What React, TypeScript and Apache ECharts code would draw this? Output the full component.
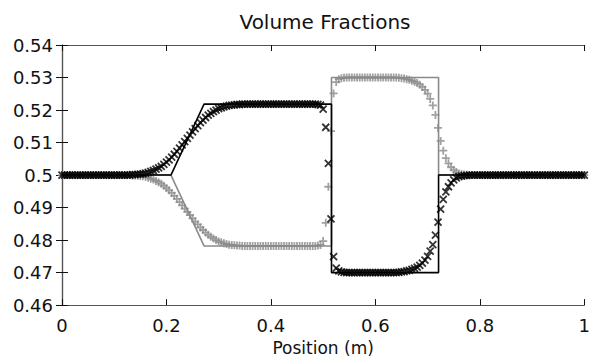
import React, { useEffect, useRef } from "react";
import * as echarts from "echarts";

// Cell positions: 201 evenly spaced samples from 0 to 1 (step 0.005)
const N_POINTS = 201;
const POSITIONS: number[] = Array.from({ length: N_POINTS }, (_, i) => Math.round(i * 5) / 1000);

// Numerical volume fraction, phase 1 (black ×)
const ALPHA1: number[] = [
  0.5, 0.5, 0.5, 0.5, 0.5, 0.5, 0.5, 0.5, 0.5, 0.5, 0.5, 0.5,
  0.5, 0.5, 0.5, 0.5, 0.5, 0.5, 0.5, 0.5, 0.5, 0.5, 0.5, 0.5,
  0.5, 0.5, 0.5, 0.5001, 0.5001, 0.5002, 0.5003, 0.5004, 0.5006, 0.5008, 0.5011, 0.5014,
  0.5018, 0.5022, 0.5027, 0.5033, 0.504, 0.5047, 0.5055, 0.5064, 0.5073, 0.5083, 0.5093, 0.5103,
  0.5113, 0.5123, 0.5133, 0.5143, 0.5152, 0.5161, 0.5169, 0.5177, 0.5184, 0.519, 0.5195, 0.52,
  0.5204, 0.5207, 0.521, 0.5212, 0.5214, 0.5215, 0.5216, 0.5217, 0.5217,
  0.5218, 0.5218, 0.5218, 0.5218, 0.5218, 0.5218, 0.5218, 0.5218, 0.5218, 0.5218,
  0.5218, 0.5218, 0.5218, 0.5218, 0.5218, 0.5218, 0.5218, 0.5218, 0.5218, 0.5218,
  0.5218, 0.5218, 0.5218, 0.5218, 0.5218, 0.5218, 0.5218, 0.5218, 0.5218,
  0.5217, 0.5215, 0.5203, 0.5147, 0.5036, 0.4865, 0.4749, 0.4714, 0.4705, 0.4702, 0.4701,
  0.47, 0.47, 0.47, 0.47, 0.47, 0.47, 0.47, 0.47, 0.47, 0.47,
  0.47, 0.47, 0.47, 0.47, 0.47, 0.47, 0.47, 0.47, 0.47,
  0.47, 0.4701, 0.4702, 0.4703, 0.4705, 0.4707, 0.471, 0.4713, 0.4717, 0.4722,
  0.4729, 0.4738, 0.475, 0.4766, 0.4786, 0.4815, 0.4855, 0.4895, 0.4925, 0.4948,
  0.4964, 0.4976, 0.4985, 0.4991, 0.4995, 0.4997, 0.4998, 0.4999,
  0.5, 0.5, 0.5, 0.5, 0.5, 0.5, 0.5, 0.5, 0.5, 0.5, 0.5, 0.5, 0.5, 0.5, 0.5,
  0.5, 0.5, 0.5, 0.5, 0.5, 0.5, 0.5, 0.5, 0.5, 0.5, 0.5, 0.5, 0.5, 0.5, 0.5,
  0.5, 0.5, 0.5, 0.5, 0.5, 0.5, 0.5, 0.5, 0.5, 0.5, 0.5, 0.5, 0.5, 0.5, 0.5,
];

// Numerical volume fraction, phase 2 (grey +)
const ALPHA2: number[] = [
  0.5, 0.5, 0.5, 0.5, 0.5, 0.5, 0.5, 0.5, 0.5, 0.5, 0.5, 0.5,
  0.5, 0.5, 0.5, 0.5, 0.5, 0.5, 0.5, 0.5, 0.5, 0.5, 0.5, 0.5,
  0.5, 0.5, 0.5, 0.4999, 0.4999, 0.4998, 0.4997, 0.4996, 0.4994, 0.4992, 0.4989, 0.4986,
  0.4982, 0.4978, 0.4973, 0.4967, 0.496, 0.4953, 0.4945, 0.4936, 0.4927, 0.4917, 0.4907, 0.4897,
  0.4887, 0.4877, 0.4867, 0.4857, 0.4848, 0.4839, 0.4831, 0.4823, 0.4816, 0.481, 0.4805, 0.48,
  0.4796, 0.4793, 0.479, 0.4788, 0.4786, 0.4785, 0.4784, 0.4783, 0.4783,
  0.4782, 0.4782, 0.4782, 0.4782, 0.4782, 0.4782, 0.4782, 0.4782, 0.4782, 0.4782,
  0.4782, 0.4782, 0.4782, 0.4782, 0.4782, 0.4782, 0.4782, 0.4782, 0.4782, 0.4782,
  0.4782, 0.4782, 0.4782, 0.4782, 0.4782, 0.4782, 0.4782, 0.4782, 0.4782,
  0.4783, 0.4785, 0.4797, 0.4853, 0.4964, 0.5135, 0.5251, 0.5286, 0.5295, 0.5298, 0.5299,
  0.53, 0.53, 0.53, 0.53, 0.53, 0.53, 0.53, 0.53, 0.53, 0.53,
  0.53, 0.53, 0.53, 0.53, 0.53, 0.53, 0.53, 0.53, 0.53,
  0.53, 0.5299, 0.5298, 0.5297, 0.5295, 0.5293, 0.529, 0.5287, 0.5283, 0.5278,
  0.5271, 0.5262, 0.525, 0.5234, 0.5214, 0.5185, 0.5145, 0.5105, 0.5075, 0.5052,
  0.5036, 0.5024, 0.5015, 0.5009, 0.5005, 0.5003, 0.5002, 0.5001,
  0.5, 0.5, 0.5, 0.5, 0.5, 0.5, 0.5, 0.5, 0.5, 0.5, 0.5, 0.5, 0.5, 0.5, 0.5,
  0.5, 0.5, 0.5, 0.5, 0.5, 0.5, 0.5, 0.5, 0.5, 0.5, 0.5, 0.5, 0.5, 0.5, 0.5,
  0.5, 0.5, 0.5, 0.5, 0.5, 0.5, 0.5, 0.5, 0.5, 0.5, 0.5, 0.5, 0.5, 0.5, 0.5,
];

// Exact solution (piecewise linear)
const EXACT_X: number[] = [0, 0.2086, 0.272, 0.516, 0.516, 0.721, 0.721, 1];
const EXACT_ALPHA1: number[] = [0.5, 0.5, 0.5218, 0.5218, 0.47, 0.47, 0.5, 0.5];
const EXACT_ALPHA2: number[] = [0.5, 0.5, 0.4782, 0.4782, 0.53, 0.53, 0.5, 0.5];

const X_TICKS = { min: 0, max: 1, interval: 0.2 };
const Y_TICKS = { min: 0.46, max: 0.54, interval: 0.01 };

const TITLE = "Volume Fractions";
const X_NAME = "Position (m)";

const CROSS = "path://M0,0L10,10M10,0L0,10";
const PLUS = "path://M5,0L5,10M0,5L10,5";

const FONT = "DejaVu Sans";
const AXIS_COLOR = "#555";
const GREY = "#8a8a8a";

const zip = (xs: number[], ys: number[]) => ys.map((y, i) => [xs[i], y]);

export default function App() {
  const ref = useRef<HTMLDivElement>(null);
  useEffect(() => {
    if (!ref.current) return;
    const chart = echarts.init(ref.current, undefined, { renderer: "svg" });
    const axisLine = { show: true, lineStyle: { color: AXIS_COLOR, width: 1.2 } };
    const axisTick = { show: true, inside: true, length: 6, lineStyle: { color: "#111", width: 1 } };
    chart.setOption({
      animation: false,
      backgroundColor: "#fff",
      title: {
        text: TITLE,
        left: 325,
        top: 12,
        padding: 0,
        textAlign: "center",
        textStyle: { fontFamily: FONT, fontSize: 20, fontWeight: "normal", color: "#111" },
      },
      grid: { left: 62, right: 5, top: 45, bottom: 51, containLabel: false },
      xAxis: [
        {
          type: "value",
          ...X_TICKS,
          position: "bottom",
          name: X_NAME,
          nameLocation: "middle",
          nameGap: 33,
          nameTextStyle: { fontFamily: FONT, fontSize: 17, color: "#111" },
          axisLine,
          axisTick,
          splitLine: { show: false },
          axisLabel: {
            fontFamily: FONT,
            fontSize: 18,
            color: "#111",
            margin: 11,
            formatter: (v: number) => String(+v.toFixed(2)),
          },
        },
        {
          type: "value",
          ...X_TICKS,
          position: "top",
          axisLine,
          axisTick,
          splitLine: { show: false },
          axisLabel: { show: false },
        },
      ],
      yAxis: [
        {
          type: "value",
          ...Y_TICKS,
          position: "left",
          axisLine,
          axisTick,
          splitLine: { show: false },
          axisLabel: {
            fontFamily: FONT,
            fontSize: 18,
            color: "#111",
            margin: 9,
            formatter: (v: number) => String(+v.toFixed(2)),
          },
        },
        {
          type: "value",
          ...Y_TICKS,
          position: "right",
          axisLine,
          axisTick,
          splitLine: { show: false },
          axisLabel: { show: false },
        },
      ],
      series: [
        {
          type: "line",
          data: zip(EXACT_X, EXACT_ALPHA2),
          showSymbol: false,
          lineStyle: { color: GREY, width: 1.6 },
          z: 1,
        },
        {
          type: "scatter",
          data: zip(POSITIONS, ALPHA2),
          symbol: PLUS,
          symbolSize: 8,
          itemStyle: { color: "none", borderColor: GREY, borderWidth: 1.8 },
          z: 2,
        },
        {
          type: "line",
          data: zip(EXACT_X, EXACT_ALPHA1),
          showSymbol: false,
          lineStyle: { color: "#000", width: 1.6 },
          z: 3,
        },
        {
          type: "scatter",
          data: zip(POSITIONS, ALPHA1),
          symbol: CROSS,
          symbolSize: 7,
          itemStyle: { color: "none", borderColor: "#000", borderWidth: 1.8 },
          z: 4,
        },
      ],
    });
    return () => chart.dispose();
  }, []);
  return <div ref={ref} style={{ width: 593, height: 361, position: "absolute", left: 0, top: 0 }} />;
}
